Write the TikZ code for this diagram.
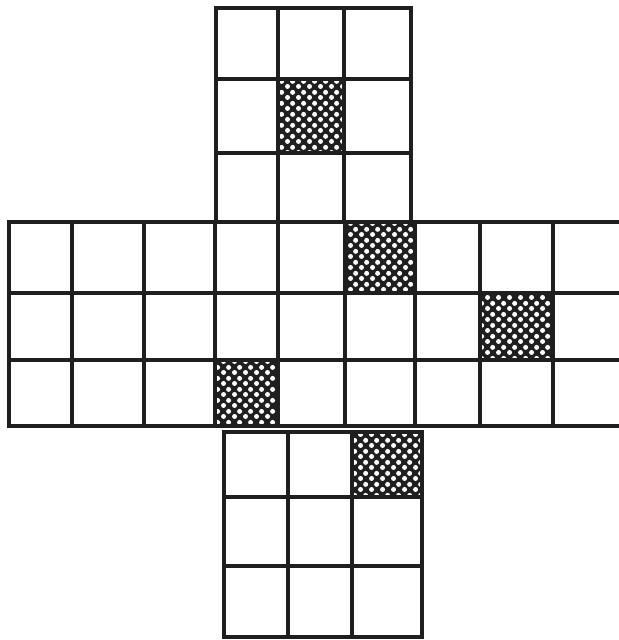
\documentclass[tikz,border=0pt]{standalone}
\usetikzlibrary{patterns.meta}
\tikzdeclarepattern{
  name=netdots,
  bottom left={(0pt,0pt)},
  top right={(9pt,9pt)},
  tile size={(9pt,9pt)},
  code={
    \fill (2.25pt,2.25pt) circle (2.2pt);
    \fill (6.75pt,6.75pt) circle (2.2pt);
  }
}

\begin{document}
\begin{tikzpicture}[x=0.03cm, y=-0.03cm,
  netline/.style={line width=2.8pt, draw=black!88, line cap=rect},
  darkcell/.style={fill=black!88, postaction={pattern=netdots, pattern color=white}},
]
\useasboundingbox (0,0) rectangle (619,640);
% shaded squares
\foreach \xa/\ya/\xb/\yb in {278/79/344/153, 345/222/415/293, 480/293/553/360,
                             215/360/278/426, 352/432/422/497}
  \path[darkcell] (\xa,\ya) rectangle (\xb,\yb);
% top face
\foreach \x in {216,278,344,411} \draw[netline] (\x,8) -- (\x,222);
\foreach \y in {8,79,153} \draw[netline] (216,\y) -- (411,\y);
% middle band
\foreach \x in {9,72,144,215,278,345,415,480,553} \draw[netline] (\x,222) -- (\x,426);
\foreach \y in {222,293,360,426} \draw[netline] (9,\y) -- (622,\y);
% bottom face
\foreach \x in {224,288,352,422} \draw[netline] (\x,432) -- (\x,637);
\foreach \y in {432,497,566,637} \draw[netline] (224,\y) -- (422,\y);
\end{tikzpicture}
\end{document}
